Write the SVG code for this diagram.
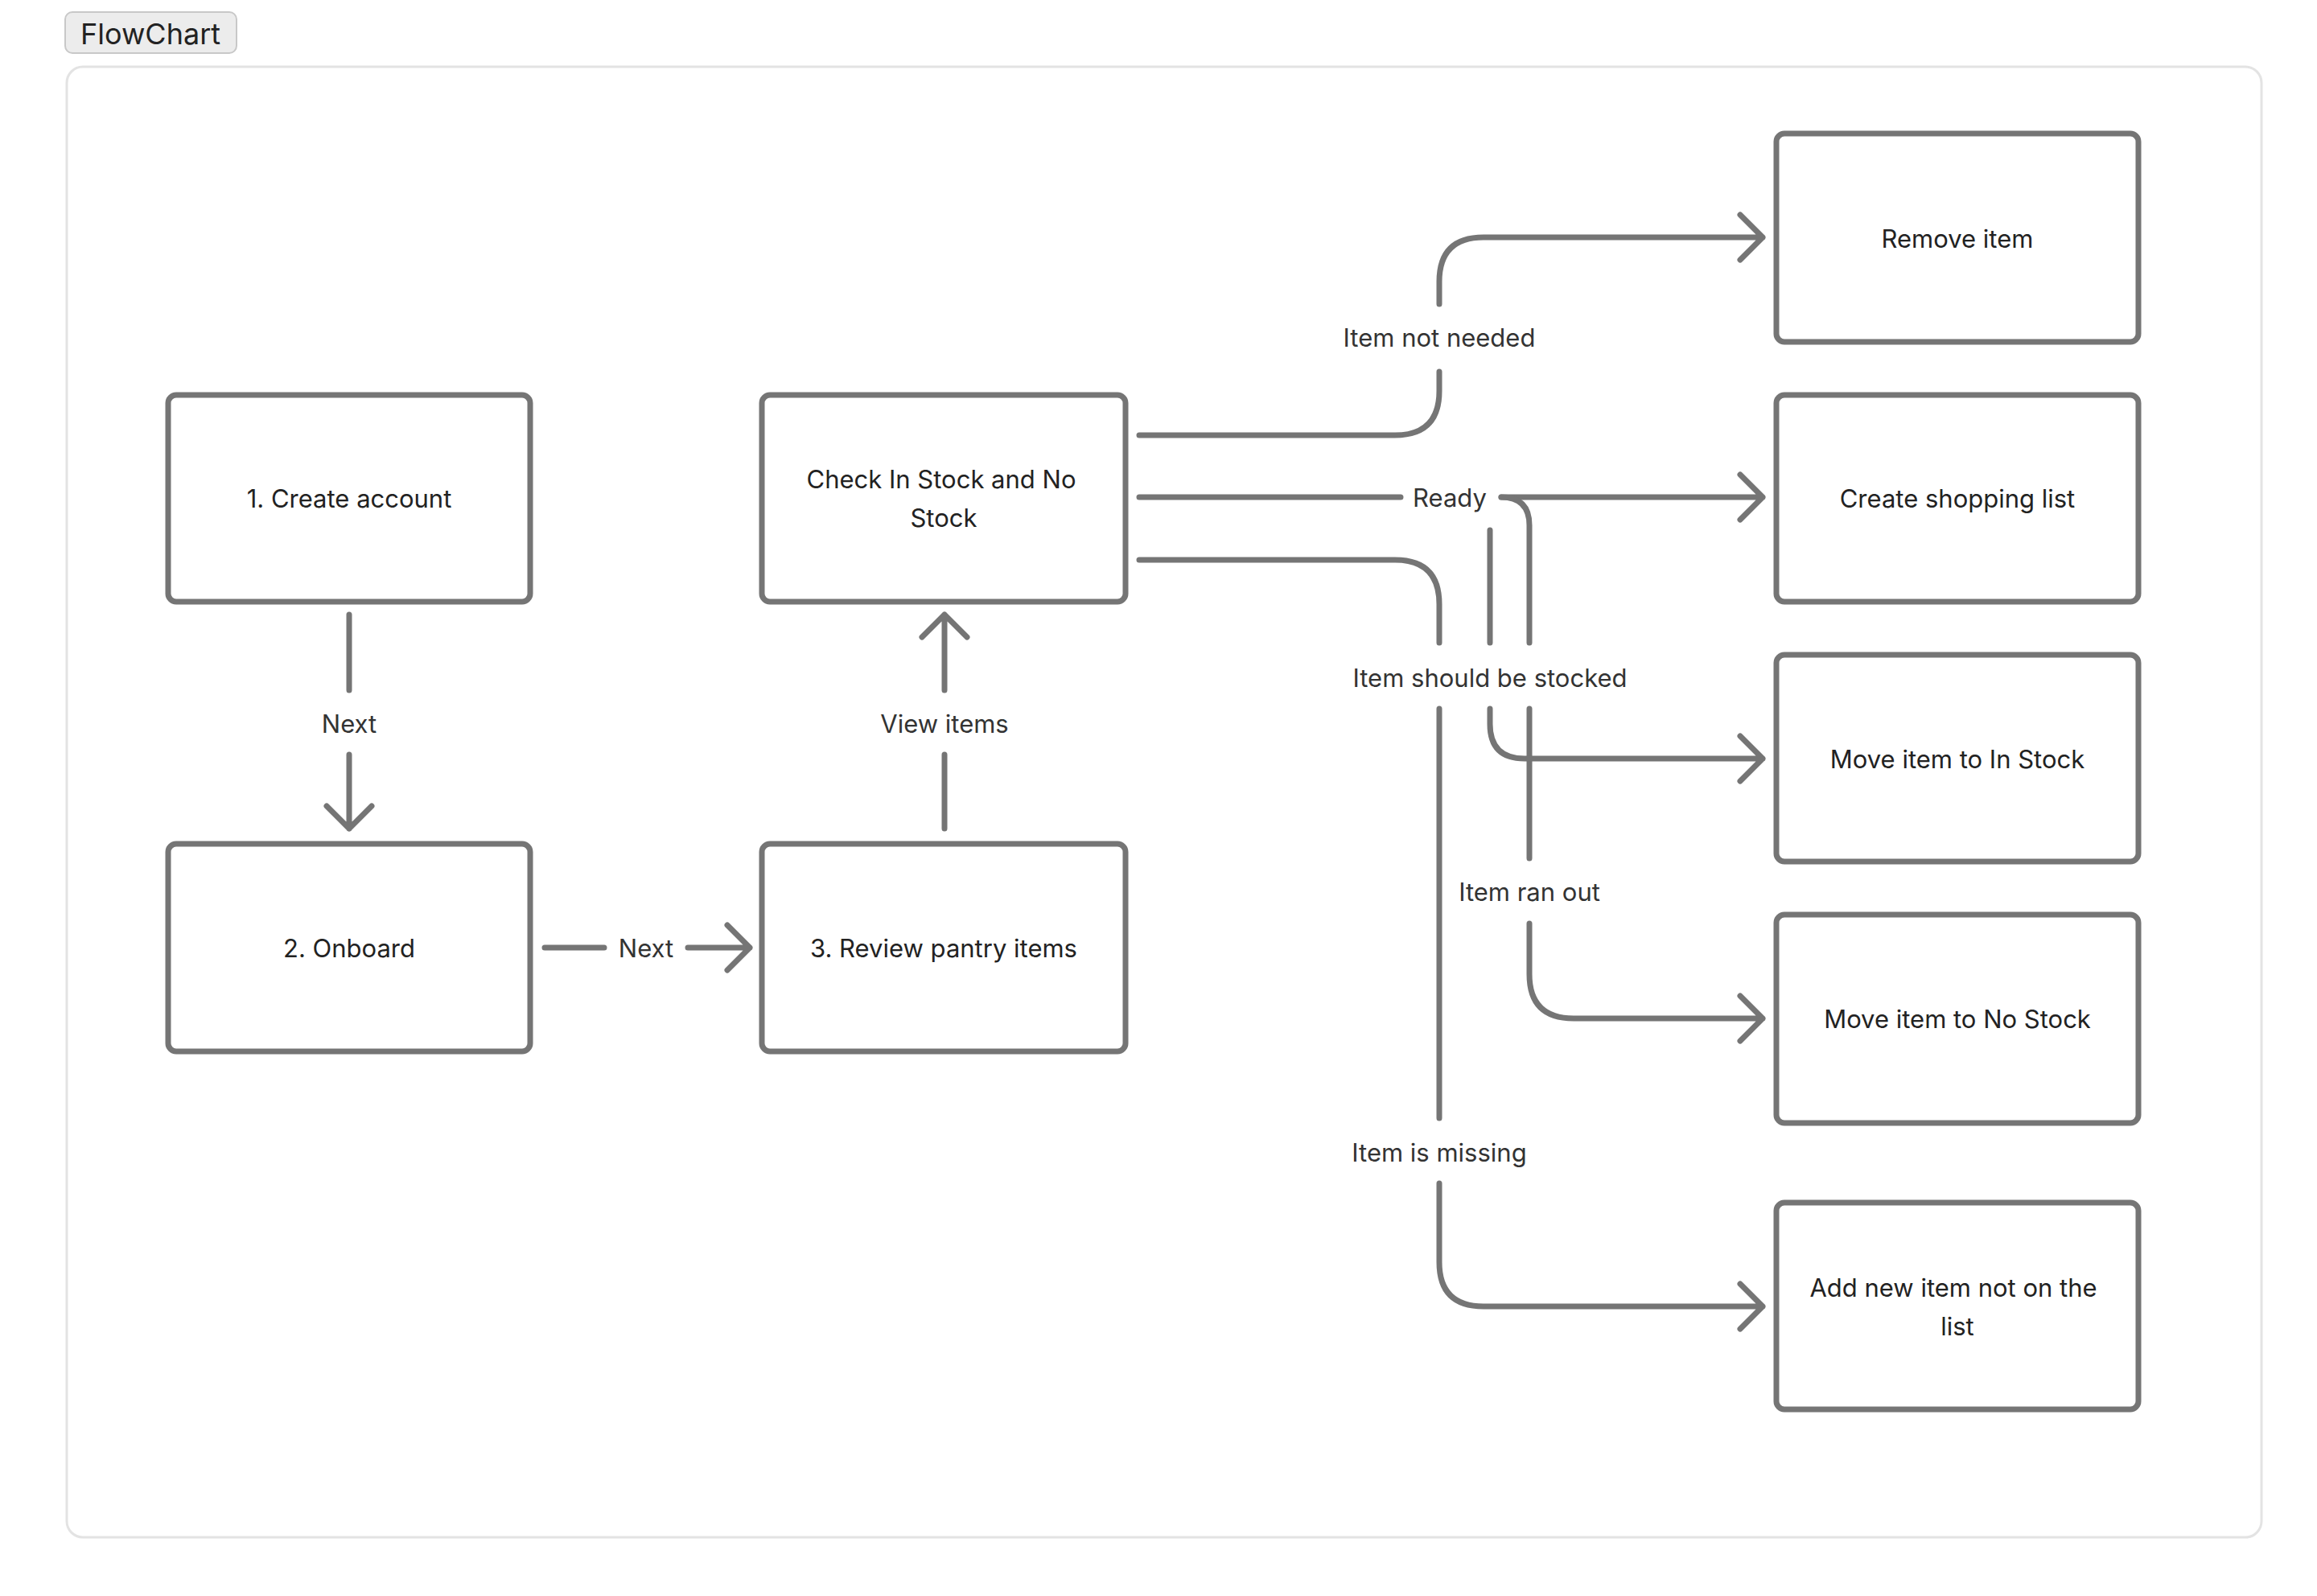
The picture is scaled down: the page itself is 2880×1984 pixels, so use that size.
<svg xmlns="http://www.w3.org/2000/svg" width="2880" height="1984" viewBox="0 0 2880 1984">
<style>
.box{fill:#fff;stroke:#757575;stroke-width:7}
.t{font-family:Inter,"Noto Sans",sans-serif;font-size:31px;fill:#222;text-anchor:middle;dominant-baseline:central}
.lb{font-family:Inter,"Noto Sans",sans-serif;font-size:31px;fill:#333;text-anchor:middle;dominant-baseline:central}
.c{fill:none;stroke:#757575;stroke-width:7;stroke-linecap:round;stroke-linejoin:round}
</style>
<rect width="2880" height="1984" fill="#fff"/>
<g id="title"><rect x="81" y="15" width="213" height="51" rx="9" fill="#ececec" stroke="#c8c8c8" stroke-width="2"/>
<text x="187" y="42" style="font-family:Inter,'Noto Sans',sans-serif;font-size:36px;fill:#222;text-anchor:middle;dominant-baseline:central">FlowChart</text></g>
<rect x="83" y="83" width="2728" height="1828" rx="20" fill="#fff" stroke="#e3e3e3" stroke-width="3"/>
<g id="connectors">
<path class="c" d="M434 764V858M434 938V1030M406 1002L434 1030L462 1002"/>
<text class="lb" x="434" y="899">Next</text>
<path class="c" d="M677 1178H751M855 1178H932M904 1150L932 1178L904 1206"/>
<text class="lb" x="803" y="1178">Next</text>
<path class="c" d="M1174 1030V938M1174 858V764M1146 792L1174 764L1202 792"/>
<text class="lb" x="1174" y="899">View items</text>
<path class="c" d="M1416 541H1734Q1789 541 1789 486V462M1789 378V350Q1789 295 1844 295H2191M2163 267L2191 295L2163 323"/>
<text class="lb" x="1789" y="419">Item not needed</text>
<path class="c" d="M1416 618H1741M1866 618H2191M2163 590L2191 618L2163 646"/>
<text class="lb" x="1802" y="618">Ready</text>
<path class="c" d="M1866 618Q1901 618 1901 653V799M1901 881V1067M1901 1148V1211Q1901 1266 1956 1266H2191M2163 1238L2191 1266L2163 1294"/>
<text class="lb" x="1901" y="1108">Item ran out</text>
<path class="c" d="M1852 659V799M1852 881V900Q1852 943 1895 943H2191M2163 915L2191 943L2163 971"/>
<text class="lb" x="1852" y="842">Item should be stocked</text>
<path class="c" d="M1416 696H1734Q1789 696 1789 751V799M1789 881V1390M1789 1471V1569Q1789 1624 1844 1624H2191M2163 1596L2191 1624L2163 1652"/>
<text class="lb" x="1789" y="1432">Item is missing</text>
</g>
<g id="n1"><rect class="box" x="209" y="491" width="450" height="257" rx="10"/><text class="t" x="434" y="619">1. Create account</text></g>
<g id="n2"><rect class="box" x="209" y="1049" width="450" height="258" rx="10"/><text class="t" x="434" y="1178">2. Onboard</text></g>
<g id="n3"><rect class="box" x="947" y="1049" width="452" height="258" rx="10"/><text class="t" x="1173" y="1178">3. Review pantry items</text></g>
<g id="check"><rect class="box" x="947" y="491" width="452" height="257" rx="10"/><text class="t" x="1170" y="595">Check In Stock and No</text><text class="t" x="1173" y="643">Stock</text></g>
<g id="remove"><rect class="box" x="2208" y="166" width="450" height="259" rx="10"/><text class="t" x="2433" y="296">Remove item</text></g>
<g id="shop"><rect class="box" x="2208" y="491" width="450" height="257" rx="10"/><text class="t" x="2433" y="619">Create shopping list</text></g>
<g id="instock"><rect class="box" x="2208" y="814" width="450" height="257" rx="10"/><text class="t" x="2433" y="943">Move item to In Stock</text></g>
<g id="nostock"><rect class="box" x="2208" y="1137" width="450" height="259" rx="10"/><text class="t" x="2433" y="1266">Move item to No Stock</text></g>
<g id="addnew"><rect class="box" x="2208" y="1495" width="450" height="257" rx="10"/><text class="t" x="2428" y="1600">Add new item not on the</text><text class="t" x="2433" y="1648">list</text></g>
</svg>
